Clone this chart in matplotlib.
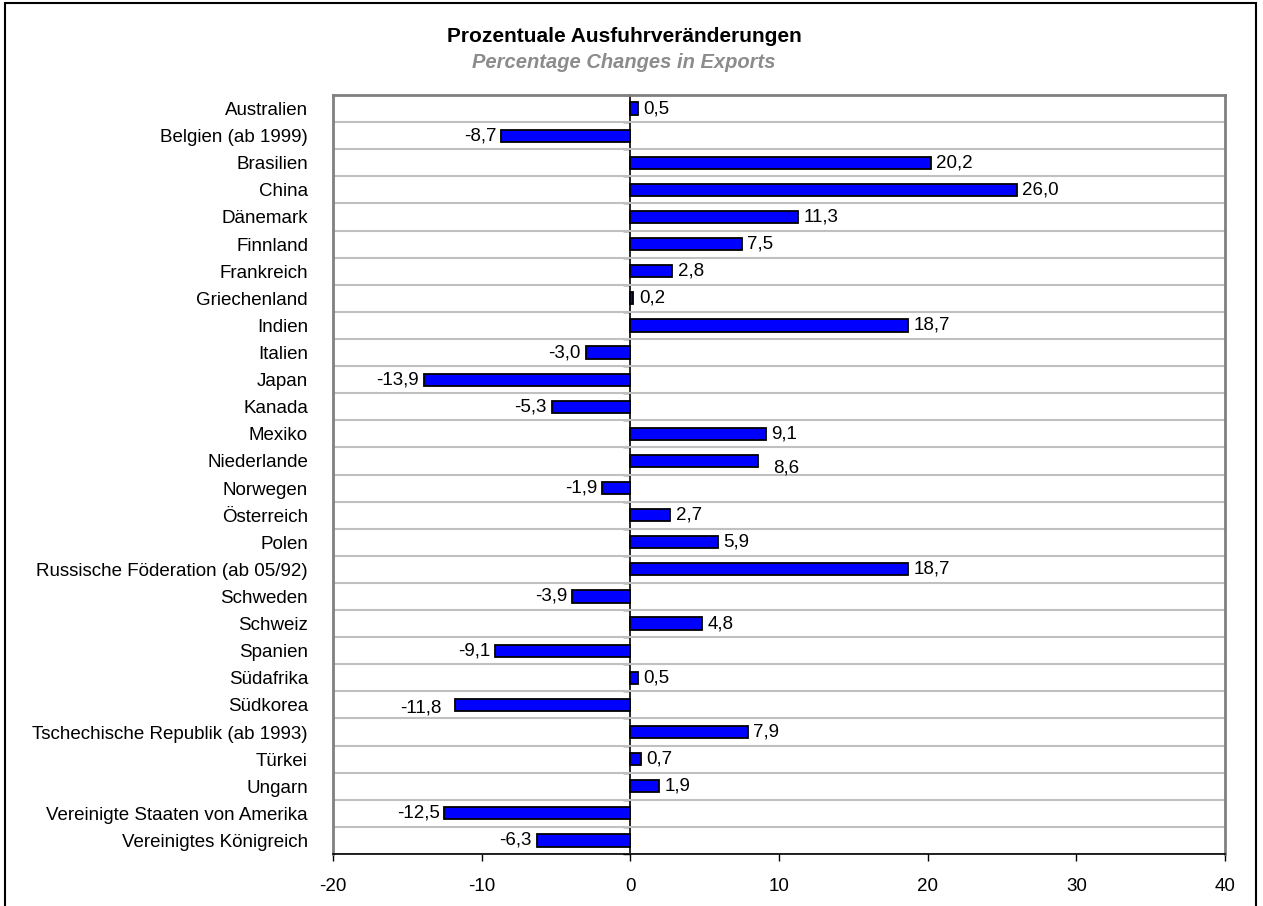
import matplotlib.pyplot as plt
import numpy as np
from matplotlib.patches import Rectangle

COUNTRIES = [
    "Australien", "Belgien (ab 1999)", "Brasilien", "China", "Dänemark",
    "Finnland", "Frankreich", "Griechenland", "Indien", "Italien", "Japan",
    "Kanada", "Mexiko", "Niederlande", "Norwegen", "Österreich", "Polen",
    "Russische Föderation (ab 05/92)", "Schweden", "Schweiz", "Spanien",
    "Südafrika", "Südkorea", "Tschechische Republik (ab 1993)", "Türkei",
    "Ungarn", "Vereinigte Staaten von Amerika", "Vereinigtes Königreich",
]
CHANGES = [
    0.5, -8.7, 20.2, 26.0, 11.3, 7.5, 2.8, 0.2, 18.7, -3.0, -13.9, -5.3,
    9.1, 8.6, -1.9, 2.7, 5.9, 18.7, -3.9, 4.8, -9.1, 0.5, -11.8, 7.9,
    0.7, 1.9, -12.5, -6.3,
]
X_TICKS = [-20, -10, 0, 10, 20, 30, 40]
# labels the original chart shifts away from the bar end (dx, dy in points)
LABEL_SHIFT = {"Niederlande": (7, -5), "Südkorea": (-6, -2)}

TITLE = "Prozentuale Ausfuhrveränderungen"
SUBTITLE = "Percentage Changes in Exports"

plt.rcParams["font.family"] = ["Liberation Sans", "DejaVu Sans"]
plt.rcParams["axes.unicode_minus"] = False

fig = plt.figure(figsize=(12.63, 9.06), dpi=100)
ax = fig.add_axes([333 / 1263, 1 - 854 / 906, 892 / 1263, 759 / 906])

n = len(COUNTRIES)
y = np.arange(n)
ax.barh(y, CHANGES, height=0.45, color="#0000ff", edgecolor="black",
        linewidth=1.3, zorder=3)

for yi, v, name in zip(y, CHANGES, COUNTRIES):
    txt = f"{v:.1f}".replace(".", ",")
    dx, dy = LABEL_SHIFT.get(name, (0, 0))
    if v >= 0:
        ax.annotate(txt, (v, yi), xytext=(4 + dx, dy), textcoords="offset points",
                    ha="left", va="center", fontsize=13.5)
    else:
        ax.annotate(txt, (v, yi), xytext=(-3.5 + dx, dy), textcoords="offset points",
                    ha="right", va="center", fontsize=13.5)

ax.set_xlim(X_TICKS[0], X_TICKS[-1])
ax.set_ylim(n - 0.5, -0.5)
ax.set_xticks(X_TICKS)
ax.tick_params(axis="x", labelsize=13.5, length=5, width=1, direction="out", pad=12)

ax.set_yticks(y)
ax.set_yticklabels(COUNTRIES, fontsize=13.5)
ax.tick_params(axis="y", length=0, pad=18)
ax.set_yticks(np.arange(n + 1) - 0.5, minor=True)
ax.tick_params(axis="y", which="minor", length=0)
ax.grid(axis="y", which="minor", color="#c0c0c0", linewidth=1.5, zorder=0)

for side in ("top", "right", "left"):
    ax.spines[side].set_color("#808080")
    ax.spines[side].set_linewidth(2)
ax.spines["bottom"].set_color("black")
ax.spines["bottom"].set_linewidth(1.2)

# category axis sitting on the zero line
zero_axis = ax.secondary_yaxis(1 / 3)
zero_axis.set_yticks(np.arange(n + 1) - 0.5)
zero_axis.set_yticklabels([])
zero_axis.tick_params(length=5, width=1, color="black")
zero_axis.spines["left"].set_color("black")
zero_axis.spines["left"].set_linewidth(1.2)

fig.text(624 / 1263, 1 - 36 / 906, TITLE, ha="center", va="center", fontsize=15,
         fontweight="bold")
fig.text(624 / 1263, 1 - 63 / 906, SUBTITLE, ha="center", va="center",
         fontsize=14.5, fontweight="bold", style="italic", color="#8c8c8c")

fig.patches.append(Rectangle((5 / 1263, -0.05), 1251 / 1263, 1.05 - 3 / 906,
                             transform=fig.transFigure, fill=False,
                             edgecolor="black", linewidth=1.5))

fig.savefig("out.png", dpi=100)
